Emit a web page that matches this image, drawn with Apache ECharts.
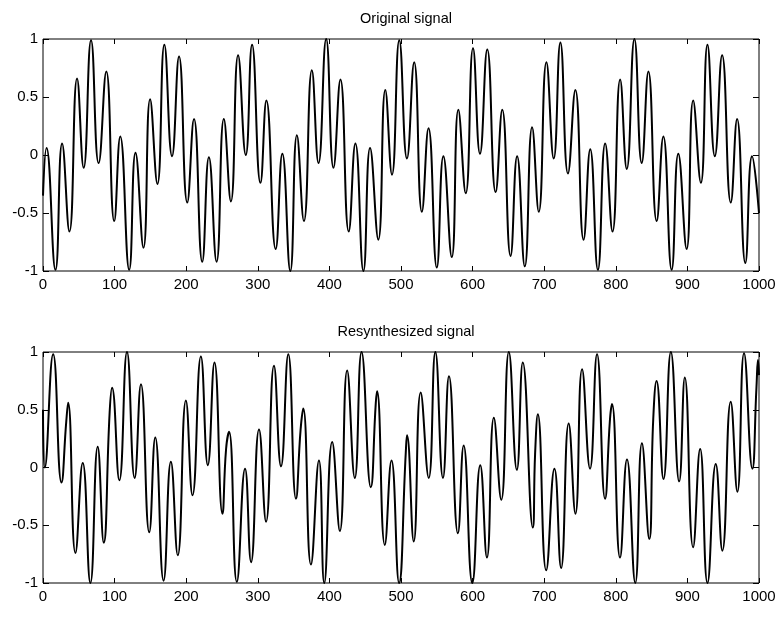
<!DOCTYPE html>
<html>
<head>
<meta charset="utf-8">
<script src="https://cdn.jsdelivr.net/npm/echarts@6/dist/echarts.min.js"></script>
<style>html,body{margin:0;padding:0;background:#fff}#c{width:784px;height:632px}</style>
</head>
<body>
<div id="c"></div>
<script>
// Titles and tick labels
const titles = ['Original signal', 'Resynthesized signal'];
const xTicks = [0, 100, 200, 300, 400, 500, 600, 700, 800, 900, 1000];
const yTicks = [-1, -0.5, 0, 0.5, 1];

// Original signal: local extrema [sample, amplitude]
const originalSignal = [
  [0,-0.35],[4.9,0.06],[17.4,-0.99],[26.7,0.10],[36.9,-0.66],[47.6,0.66],[56.8,-0.11],[67.1,0.99],
  [77.7,-0.07],[88.4,0.72],[99.5,-0.57],[107.9,0.16],[120.4,-0.99],[129.2,0.02],[140.3,-0.80],[149.6,0.48],
  [159.8,-0.25],[169.5,0.95],[180.2,-0.01],[190,0.85],[201.5,-0.41],[210.9,0.31],[222.4,-0.92],[231.7,-0.02],
  [242.4,-0.92],[252.6,0.31],[262.4,-0.40],[272.5,0.86],[283.2,0.00],[292,0.95],[303.7,-0.24],[312,0.47],
  [325,-0.81],[334.3,0.01],[345.4,-1.00],[354.6,0.17],[364.4,-0.57],[375.5,0.73],[384.8,-0.07],[395.5,1.00],
  [405.7,-0.11],[415.4,0.65],[427,-0.66],[436.3,0.10],[447.5,-1.00],[456.8,0.06],[468.3,-0.73],[478.1,0.56],
  [487.4,-0.17],[497.6,0.99],[508.3,-0.03],[518.4,0.80],[529.2,-0.49],[538.4,0.23],[550,-0.97],[559.2,-0.01],
  [570.9,-0.88],[580.1,0.39],[590.4,-0.33],[600.6,0.92],[610.3,0.01],[620.5,0.91],[632.2,-0.32],[641.4,0.39],
  [653,-0.87],[662.2,-0.01],[672.9,-0.96],[683.1,0.24],[692.4,-0.49],[703.1,0.80],[713.3,-0.03],[722.6,0.97],
  [733.2,-0.16],[743.5,0.56],[755,-0.73],[764.3,0.05],[775,-0.99],[785.2,0.10],[795.4,-0.66],[806.1,0.65],
  [815.3,-0.12],[826,1.00],[836.2,-0.07],[845.5,0.72],[857.1,-0.57],[866.4,0.16],[878,-0.99],[887.3,0.01],
  [898.9,-0.81],[908.1,0.47],[918.8,-0.24],[928,0.95],[938.3,-0.01],[948.5,0.86],[960.6,-0.41],[969.4,0.31],
  [980.9,-0.93],[990.3,-0.01],[1000,-0.50]
];

// Resynthesized signal: extrema and visible kinks [sample, amplitude]
const resynthesizedSignal = [
  [0,0.50],[2.5,0.00],[14.2,0.98],[25.8,-0.13],[32.5,0.40],[35.1,0.56],[45.3,-0.74],[55.5,0.04],[66.2,-1.00],
  [76.4,0.18],[84.8,-0.65],[93.1,0.48],[96.4,0.69],[106.6,-0.11],[117.3,1.00],[128,-0.09],[136.8,0.72],[148.4,-0.56],
  [156.8,0.26],[168.4,-0.98],[178.6,0.05],[188.2,-0.76],[199.6,0.58],[208.8,-0.24],[220.5,0.96],[230.2,0.02],
  [239.5,0.91],[250.6,-0.40],[255.7,0.16],[259.9,0.31],[270.7,-0.99],[282.2,-0.01],[290.6,-0.82],[301.7,0.33],[311.5,-0.47],
  [322.6,0.88],[332.4,0.01],[342.6,0.98],[353.3,-0.27],[359.8,0.33],[363.5,0.51],[374.2,-0.84],[385.4,0.06],[392.8,-1.00],
  [403.9,0.22],[414.6,-0.55],[424.8,0.84],[435.5,-0.09],[444.9,1.00],[457.8,-0.17],[464.8,0.56],[466.6,0.66],[477.4,-0.67],
  [486.7,0.06],[497.3,-1.00],[506.6,0.12],[508.4,0.28],[517.8,-0.64],[527.5,0.65],[538.7,-0.09],[548,1.00],[558.6,-0.09],
  [567,0.79],[579.5,-0.57],[587.5,0.19],[599.6,-1.00],[610.7,0.02],[620,-0.78],[629.7,0.43],[640,-0.28],
  [650.6,1.00],[661.8,-0.02],[670.1,0.91],[684.1,-0.52],[687.3,0.12],[691.1,0.46],[702.8,-0.89],[714.3,-0.01],[723.6,-0.87],
  [734.2,0.38],[743.6,-0.40],[752.9,0.85],[764,-0.01],[773.8,0.98],[785,-0.27],[791.9,0.42],[794.7,0.55],[805.9,-0.78],
  [815.6,0.07],[827.2,-1.00],[836.5,0.21],[846.7,-0.62],[852.3,0.42],[856.9,0.75],[866.6,-0.10],[876.9,1.00],[888.5,-0.12],
  [896.4,0.78],[908,-0.69],[917.8,0.16],[928,-1.00],[939.6,0.03],[948.8,-0.72],[960.5,0.57],[969.8,-0.21],
  [979.1,0.99],[990.7,-0.01],[996.5,0.70],[998.6,0.93],[1000,0.80]
];

const FONT = 'Liberation Sans';
const grids = [
  {left: 43, top: 39, width: 716, height: 232},
  {left: 43, top: 352, width: 716, height: 231}
];

function xAxisDef(g, pos, labels) {
  return {
    gridIndex: g, type: 'value', position: pos,
    min: xTicks[0], max: xTicks[xTicks.length - 1], interval: 100,
    axisLine: {show: false, onZero: false},
    axisTick: {show: true, inside: true, length: 5, lineStyle: {color: '#000', width: 1}},
    axisLabel: {show: labels, color: '#000', fontSize: 15, fontFamily: FONT, margin: 6, formatter: v => String(v)},
    splitLine: {show: false}
  };
}
function yAxisDef(g, pos, labels) {
  return {
    gridIndex: g, type: 'value', position: pos,
    min: yTicks[0], max: yTicks[yTicks.length - 1], interval: 0.5,
    axisLine: {show: false, onZero: false},
    axisTick: {show: true, inside: true, length: 6, lineStyle: {color: '#000', width: 1}},
    axisLabel: {show: labels, color: '#000', fontSize: 15, fontFamily: FONT, margin: 5, formatter: v => String(v)},
    splitLine: {show: false}
  };
}

const chart = echarts.init(document.getElementById('c'), null, {renderer: 'canvas'});
chart.setOption({
  animation: false,
  backgroundColor: '#fff',
  title: grids.map((g, i) => ({
    text: titles[i],
    left: g.left + g.width / 2,
    top: g.top - 33,
    textAlign: 'center',
    textStyle: {fontSize: 14.5, fontWeight: 'normal', color: '#000', fontFamily: FONT}
  })),
  grid: grids.map(g => Object.assign({show: true, borderColor: '#000', borderWidth: 1, backgroundColor: 'transparent', containLabel: false}, g)),
  xAxis: [xAxisDef(0, 'bottom', true), xAxisDef(0, 'top', false), xAxisDef(1, 'bottom', true), xAxisDef(1, 'top', false)],
  yAxis: [yAxisDef(0, 'left', true), yAxisDef(0, 'right', false), yAxisDef(1, 'left', true), yAxisDef(1, 'right', false)],
  series: [
    {type: 'line', xAxisIndex: 0, yAxisIndex: 0, data: originalSignal, smooth: true, showSymbol: false, lineStyle: {color: '#000', width: 2}},
    {type: 'line', xAxisIndex: 2, yAxisIndex: 2, data: resynthesizedSignal, smooth: true, showSymbol: false, lineStyle: {color: '#000', width: 2}}
  ]
});
</script>
</body>
</html>
